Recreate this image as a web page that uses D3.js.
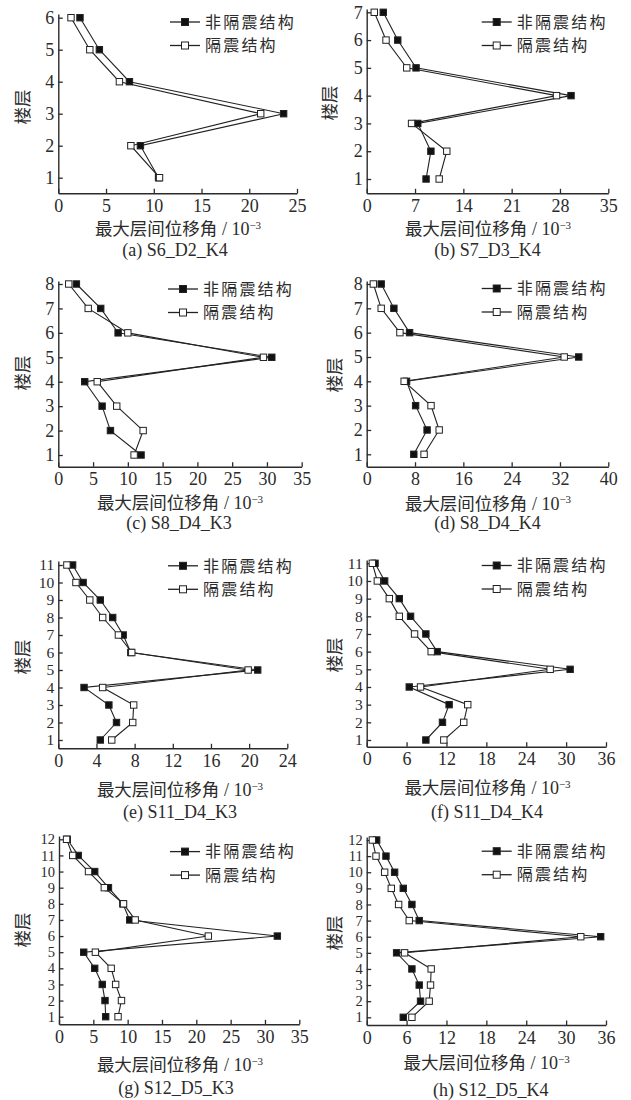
<!DOCTYPE html>
<html><head><meta charset="utf-8">
<script src="https://cdn.jsdelivr.net/npm/d3@7"></script>
<style>
html,body{margin:0;padding:0;background:#fff;}
svg{display:block;}
</style></head>
<body>
<svg id="chart" width="631" height="1100"></svg>
<script>
// ---------------- DATA (floor 1 -> top floor) ----------------
const seriesNames = ["非隔震结构", "隔震结构"];
const axisTitle = "最大层间位移角";
const axisUnit = " / 10";
const axisExp = "−3";
const yTitle = "楼层";
const captions = ["(a) S6_D2_K4", "(b) S7_D3_K4", "(c) S8_D4_K3", "(d) S8_D4_K4",
                  "(e) S11_D4_K3", "(f) S11_D4_K4", "(g) S12_D5_K3", "(h) S12_D5_K4"];

const nonIsoA = [10.5, 8.6, 23.6, 7.45, 4.3, 2.27];
const isoA    = [10.6, 7.6, 21.2, 6.4, 3.3, 1.33];
const xTicksA = [0, 5, 10, 15, 20, 25];

const nonIsoB = [8.6, 9.3, 7.4, 29.6, 7.15, 4.5, 2.4];
const isoB    = [10.5, 11.6, 6.5, 27.5, 5.8, 2.8, 1.1];
const xTicksB = [0, 7, 14, 21, 28, 35];

const nonIsoC = [11.9, 7.5, 6.3, 3.8, 30.7, 8.6, 6.1, 2.6];
const isoC    = [10.9, 12.2, 8.4, 5.6, 29.5, 10.0, 4.3, 1.5];
const xTicksC = [0, 5, 10, 15, 20, 25, 30, 35];

const nonIsoD = [7.8, 10.0, 8.1, 6.6, 35.1, 7.1, 4.5, 2.4];
const isoD    = [9.5, 12.0, 10.65, 6.2, 32.7, 5.5, 2.4, 1.1];
const xTicksD = [0, 8, 16, 24, 32, 40];

const nonIsoE = [4.4, 6.1, 5.3, 2.7, 20.9, 7.6, 6.8, 5.7, 4.4, 2.6, 1.5];
const isoE    = [5.6, 7.8, 7.9, 4.65, 19.9, 7.7, 6.3, 4.65, 3.3, 1.85, 0.9];
const xTicksE = [0, 4, 8, 12, 16, 20, 24];

const nonIsoF = [8.9, 11.4, 12.4, 6.4, 30.6, 10.6, 8.9, 6.6, 4.9, 2.7, 1.25];
const isoF    = [11.6, 14.6, 15.2, 8.1, 27.6, 9.7, 7.2, 4.9, 3.4, 1.6, 0.85];
const xTicksF = [0, 6, 12, 18, 24, 30, 36];

const nonIsoG = [6.8, 6.7, 6.3, 5.2, 3.6, 31.8, 10.3, 9.3, 7.2, 5.2, 2.8, 1.2];
const isoG    = [8.6, 9.1, 8.25, 7.6, 5.3, 21.75, 11.1, 9.4, 6.6, 4.3, 2.0, 1.1];
const xTicksG = [0, 5, 10, 15, 20, 25, 30, 35];

const nonIsoH = [5.5, 8.1, 7.9, 6.8, 4.5, 35.2, 7.9, 6.8, 5.5, 4.2, 2.9, 1.5];
const isoH    = [6.8, 9.4, 9.6, 9.7, 5.7, 32.2, 6.4, 4.8, 3.7, 2.7, 1.4, 0.85];
const xTicksH = [0, 6, 12, 18, 24, 30, 36];

// ---------------- LAYOUT (pixels) ----------------
const layout = [
  {l:58.3, r:297,   y1:177.7, yN:17.7, ax:193.3, top:14,  tx:178,   ty:229,   cx:175,   cy:249.5, yx:23,  yy:107, lx:170,   ly:[22,45.5],     yf:18},
  {l:366.7,r:608.3, y1:179,   yN:12.3, ax:193.3, top:9,   tx:488,   ty:229,   cx:487.5, cy:249.5, yx:330, yy:103, lx:481.7, ly:[22,45.5],     yf:18},
  {l:58.3, r:301.7, y1:455,   yN:284,  ax:466.7, top:281, tx:180,   ty:503,   cx:179,   cy:523,   yx:23,  yy:373, lx:168,   ly:[289,312.5],   yf:18},
  {l:366.7,r:608.3, y1:454.3, yN:284,  ax:466.7, top:281, tx:488,   ty:503.3, cx:487.5, cy:523,   yx:335, yy:375, lx:481.7, ly:[288.5,312],   yf:18},
  {l:58.3, r:287.3, y1:740,   yN:565,  ax:748.3, top:561, tx:180,   ty:790,   cx:180,   cy:812,   yx:23,  yy:657, lx:168,   ly:[565.8,589.3], yf:15.5},
  {l:366.7,r:606,   y1:740,   yN:563.3,ax:746.7, top:560, tx:487.5, ty:788,   cx:487,   cy:812,   yx:335, yy:655, lx:481.7, ly:[565.5,589],   yf:15.5},
  {l:59,   r:299.3, y1:1016.7,yN:839.3,ax:1024.3,top:836, tx:180,   ty:1065,  cx:176,   cy:1088,  yx:23,  yy:930, lx:170,   ly:[851.6,875.1], yf:14.5},
  {l:366.7,r:606,   y1:1017.3,yN:840,  ax:1025,  top:837, tx:486.7, ty:1063,  cx:490.8, cy:1090,  yx:335, yy:933, lx:481.7, ly:[851.2,874.7], yf:14.5}
];

const panels = [
  [nonIsoA, isoA, xTicksA], [nonIsoB, isoB, xTicksB], [nonIsoC, isoC, xTicksC], [nonIsoD, isoD, xTicksD],
  [nonIsoE, isoE, xTicksE], [nonIsoF, isoF, xTicksF], [nonIsoG, isoG, xTicksG], [nonIsoH, isoH, xTicksH]
];

const ink = "#2b2b2b";
const numFont = "'Liberation Serif', 'DejaVu Serif', serif";
const cjkFont = "'Noto Sans CJK SC', 'Noto Sans', sans-serif";
const svg = d3.select("#chart");

panels.forEach(([nonIso, iso, xTicks], i) => {
  const L = layout[i];
  const n = nonIso.length;
  const floors = d3.range(1, n + 1);
  const g = svg.append("g");

  const x = d3.scaleLinear().domain([xTicks[0], xTicks[xTicks.length - 1]]).range([L.l, L.r]);
  const y0 = d3.scaleLinear().domain([1, n]).range([L.y1, L.yN]);
  const y = d3.scaleLinear().domain([y0.invert(L.ax), y0.invert(L.top)]).range([L.ax, L.top]);

  // axes
  const xAxis = d3.axisBottom(x).tickValues(xTicks).tickFormat(d3.format("d"))
    .tickSizeInner(-4.5).tickSizeOuter(0).tickPadding(6);
  const gx = g.append("g").attr("transform", `translate(0,${L.ax})`).call(xAxis);
  const yAxis = d3.axisLeft(y).tickValues(floors).tickFormat(d3.format("d"))
    .tickSizeInner(-4.5).tickSizeOuter(0).tickPadding(4);
  const gy = g.append("g").attr("transform", `translate(${L.l},0)`).call(yAxis);
  [gx, gy].forEach(a => {
    a.select(".domain").attr("stroke", ink).attr("stroke-width", 1.4);
    a.selectAll(".tick line").attr("stroke", ink).attr("stroke-width", 1.3);
    a.selectAll(".tick text").attr("fill", ink).style("font-family", numFont).style("font-size", "18px");
  });
  gy.selectAll(".tick text").style("font-size", L.yf + "px");

  // lines
  const line = d3.line().x(d => x(d[0])).y(d => y(d[1]));
  const sets = [
    {vals: nonIso, fill: "#111"},
    {vals: iso, fill: "#fff"}
  ];
  sets.forEach(s => {
    const pts = s.vals.map((v, k) => [v, floors[k]]);
    g.append("path").datum(pts).attr("d", line)
      .attr("fill", "none").attr("stroke", "#222").attr("stroke-width", 1.1);
  });
  sets.forEach(s => {
    const pts = s.vals.map((v, k) => [v, floors[k]]);
    g.selectAll(null).data(pts).enter().append("rect")
      .attr("x", d => x(d[0]) - 3.2).attr("y", d => y(d[1]) - 3.2)
      .attr("width", 6.4).attr("height", 6.4)
      .attr("fill", s.fill).attr("stroke", "#222").attr("stroke-width", 1);
  });

  // legend
  sets.forEach((s, k) => {
    const ly = L.ly[k];
    g.append("line").attr("x1", L.lx).attr("x2", L.lx + 30).attr("y1", ly).attr("y2", ly)
      .attr("stroke", "#222").attr("stroke-width", 1.3);
    g.append("rect").attr("x", L.lx + 15 - 3.5).attr("y", ly - 3.5).attr("width", 7).attr("height", 7)
      .attr("fill", s.fill).attr("stroke", "#222").attr("stroke-width", 1);
    g.append("text").attr("x", L.lx + 35).attr("y", ly).attr("dy", "0.36em")
      .attr("fill", ink).style("font-family", cjkFont).style("font-size", "16px")
      .style("letter-spacing", "2.2px")
      .text(seriesNames[k]);
  });

  // x axis title
  const t = g.append("text").attr("x", L.tx).attr("y", L.ty).attr("dy", "0.36em")
    .attr("text-anchor", "middle").attr("fill", ink).style("font-size", "17.5px");
  t.append("tspan").style("font-family", cjkFont).text(axisTitle);
  t.append("tspan").style("font-family", numFont).style("font-size", "18px").text(axisUnit);
  t.append("tspan").style("font-family", numFont).style("font-size", "11px").attr("dy", "-0.6em").text(axisExp);

  // y axis title
  g.append("text").attr("transform", `translate(${L.yx},${L.yy}) rotate(-90)`)
    .attr("text-anchor", "middle").attr("dy", "0.36em").attr("fill", ink)
    .style("font-family", cjkFont).style("font-size", "17.5px").text(yTitle);

  // caption
  g.append("text").attr("x", L.cx).attr("y", L.cy).attr("dy", "0.36em")
    .attr("text-anchor", "middle").attr("fill", ink)
    .style("font-family", numFont).style("font-size", "18px").text(captions[i]);
});
</script>
</body></html>
